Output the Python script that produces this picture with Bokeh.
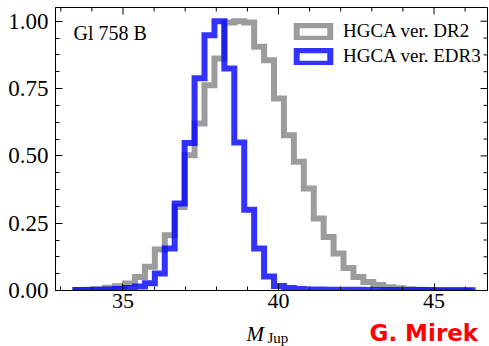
from bokeh.plotting import figure
from bokeh.models import (Range1d, FixedTicker, PrintfTickFormatter,
                          Label, Legend, LegendItem)
from bokeh.layouts import column
from bokeh.embed import file_html
from bokeh.resources import INLINE

# ---------------- data ----------------
bin_start = 33.47
bin_width = 0.3193
n_bins = 40

dr2_heights = [0.002, 0.003, 0.005, 0.010, 0.016, 0.026, 0.050, 0.088, 0.152, 0.205,
               0.310, 0.502, 0.620, 0.762, 0.862, 0.995, 1.000, 0.995, 0.905, 0.855,
               0.713, 0.577, 0.478, 0.379, 0.267, 0.199, 0.137, 0.084, 0.050, 0.032,
               0.020, 0.012, 0.008, 0.005, 0.003, 0.002, 0.001, 0.001, 0.001, 0.000]

edr3_heights = [0.002, 0.002, 0.003, 0.004, 0.006, 0.009, 0.015, 0.027, 0.063, 0.156,
                0.323, 0.548, 0.788, 0.948, 1.000, 0.824, 0.550, 0.300, 0.156, 0.052,
                0.017, 0.009, 0.006, 0.004, 0.004, 0.003, 0.003, 0.003, 0.003, 0.002,
                0.002, 0.002, 0.002, 0.002, 0.002, 0.002, 0.001, 0.001, 0.001, 0.001]

x_ticks = [35, 40, 45]
x_minor = [33, 34, 36, 37, 38, 39, 41, 42, 43, 44, 46]
y_ticks = [0.0, 0.25, 0.5, 0.75, 1.0]
y_minor = [0.0625, 0.125, 0.1875, 0.3125, 0.375, 0.4375, 0.5625, 0.625, 0.6875,
           0.8125, 0.875, 0.9375]

labels = ["HGCA ver. DR2", "HGCA ver. EDR3"]
colors = ["#808080", "#0000ff"]
alphas = [0.78, 0.8]
title_text = "Gl 758 B"
xlabel_main = "M"
xlabel_sub = "Jup"
credit = "G. Mirek"

X0, X1 = 32.83, 46.72
Y0, Y1 = 0.0, 1.051
FRAME_W, FRAME_H = 432, 283

edges = [bin_start + i * bin_width for i in range(n_bins + 1)]


def step_path(h):
    xs, ys = [edges[0]], [0.0]
    for i, v in enumerate(h):
        xs += [edges[i], edges[i + 1]]
        ys += [v, v]
    xs.append(edges[-1])
    ys.append(0.0)
    return xs, ys


serif = "Liberation Serif"

# ---------------- main figure ----------------
p = figure(width=489, height=318, output_backend="svg", toolbar_location=None,
           x_range=Range1d(X0, X1), y_range=Range1d(Y0, Y1),
           min_border_left=55, min_border_right=2, min_border_top=7, min_border_bottom=28)
p.xgrid.visible = False
p.ygrid.visible = False
p.outline_line_color = "black"
p.outline_line_width = 1
p.background_fill_color = "white"
p.border_fill_color = "white"


def style_axis(ax, ticks, minor, size, standoff):
    ax.ticker = FixedTicker(ticks=ticks, minor_ticks=minor)
    ax.major_tick_in = 7
    ax.major_tick_out = 0
    ax.minor_tick_in = 4
    ax.minor_tick_out = 0
    ax.axis_line_color = "black"
    ax.major_tick_line_color = "black"
    ax.minor_tick_line_color = "black"
    ax.major_label_text_font = serif
    ax.major_label_text_color = "black"
    ax.major_label_text_font_size = size
    ax.major_label_standoff = standoff


style_axis(p.xaxis[0], x_ticks, x_minor, "22px", 3)
style_axis(p.yaxis[0], y_ticks, y_minor, "23px", 7)
p.yaxis[0].formatter = PrintfTickFormatter(format="%.2f")

# inward ticks on the top and right spines
ux = (X1 - X0) / FRAME_W
uy = (Y1 - Y0) / FRAME_H
p.segment(x0=x_ticks, x1=x_ticks, y0=[Y1] * len(x_ticks), y1=[Y1 - 7 * uy] * len(x_ticks),
          line_color="black", line_width=1)
p.segment(x0=x_minor, x1=x_minor, y0=[Y1] * len(x_minor), y1=[Y1 - 4 * uy] * len(x_minor),
          line_color="black", line_width=1)
p.segment(x0=[X1] * len(y_ticks), x1=[X1 - 7 * ux] * len(y_ticks), y0=y_ticks, y1=y_ticks,
          line_color="black", line_width=1)
p.segment(x0=[X1] * len(y_minor), x1=[X1 - 4 * ux] * len(y_minor), y0=y_minor, y1=y_minor,
          line_color="black", line_width=1)

items = []
nan = float("nan")
for h, c, a, lab in zip([dr2_heights, edr3_heights], colors, alphas, labels):
    xs, ys = step_path(h)
    p.line(xs, ys, line_color=c, line_alpha=a, line_width=6, line_join="miter")
    proxy = p.quad(left=[nan], right=[nan], top=[nan], bottom=[nan], fill_alpha=0,
                   line_color=c, line_alpha=a, line_width=6, line_join="miter")
    items.append(LegendItem(label=lab, renderers=[proxy]))

legend = Legend(items=items, location=(237, 223), padding=0, spacing=3,
                glyph_width=42, glyph_height=17, label_standoff=9,
                label_text_font=serif, label_text_font_size="19px",
                label_text_color="black",
                background_fill_alpha=0, border_line_alpha=0)
p.add_layout(legend, "center")

p.add_layout(Label(x=18, y=247, x_units="screen", y_units="screen", text=title_text,
                   text_font=serif, text_font_size="20px", text_color="black"))

# ---------------- strip below for axis label and credit ----------------
# (its frame is aligned with the main frame: x measured from the main frame's left edge)
p2 = figure(width=489, height=28, output_backend="svg", toolbar_location=None,
            x_range=Range1d(0, 1), y_range=Range1d(0, 1),
            min_border_left=0, min_border_right=0, min_border_top=0, min_border_bottom=0)
p2.axis.visible = False
p2.xgrid.visible = False
p2.ygrid.visible = False
p2.outline_line_color = None
p2.background_fill_color = "white"
p2.border_fill_color = "white"

p2.add_layout(Label(x=191, y=0.7, x_units="screen", y_units="screen", text=xlabel_main,
                    text_font=serif, text_font_style="italic", text_font_size="21px",
                    text_color="black"))
p2.add_layout(Label(x=212, y=0.3, x_units="screen", y_units="screen", text=xlabel_sub,
                    text_font=serif, text_font_size="15px", text_color="black"))
p2.add_layout(Label(x=314, y=0.5, x_units="screen", y_units="screen", text=credit,
                    text_font="DejaVu Sans", text_font_style="bold", text_font_size="23px",
                    text_color="#ff0000"))

layout = column(p, p2, spacing=0)
open("out.html", "w").write(file_html(layout, INLINE))
